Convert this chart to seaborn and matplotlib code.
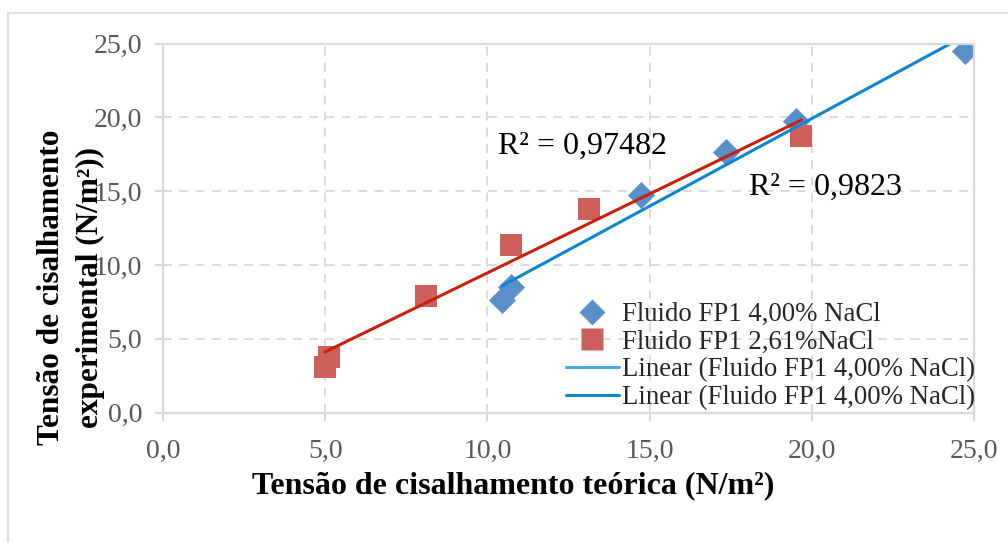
import matplotlib
matplotlib.use("Agg")
import matplotlib.pyplot as plt
import seaborn as sns
import numpy as np
import pandas as pd
from matplotlib.lines import Line2D
from matplotlib.patches import Rectangle
from matplotlib.ticker import FuncFormatter, MultipleLocator

# ---- data ----
x_fp1_400 = [10.44, 10.74, 14.73, 17.36, 19.50, 24.71]
y_fp1_400 = [7.65, 8.50, 14.72, 17.65, 19.77, 24.50]
x_fp1_261 = [4.99, 5.13, 8.11, 10.74, 13.14, 19.68]
y_fp1_261 = [3.10, 3.80, 7.91, 11.36, 13.78, 18.76]

legend_labels = ["Fluido FP1 4,00% NaCl", "Fluido FP1 2,61%NaCl",
                 "Linear (Fluido FP1 4,00% NaCl)", "Linear (Fluido FP1 4,00% NaCl)"]
r2_labels = ["R² = 0,97482", "R² = 0,9823"]
xlabel = "Tensão de cisalhamento teórica (N/m²)"
ylabel = "Tensão de cisalhamento\nexperimental (N/m²))"

sns.set_style("white")
plt.rcParams['font.family'] = ['Liberation Serif', 'DejaVu Serif']

W, H = 1008, 543
fig = plt.figure(figsize=(W / 100, H / 100), dpi=100)
L, R, T, B = 163, 974, 43.5, 412.7
ax = fig.add_axes([L / W, 1 - B / H, (R - L) / W, (B - T) / H])

blue_m = "#5b8fca"
red_m = "#cd605b"
red_line = "#c8200c"
blue_line = "#0c86cf"

df1 = pd.DataFrame({"x": x_fp1_400, "y": y_fp1_400})
df2 = pd.DataFrame({"x": x_fp1_261, "y": y_fp1_261})

sns.regplot(data=df1, x="x", y="y", ax=ax, ci=None, marker="D", truncate=True,
            scatter_kws=dict(s=190, color=blue_m, alpha=1, linewidths=0, zorder=3),
            line_kws=dict(color=blue_line, lw=2.2, zorder=4))
sns.regplot(data=df2, x="x", y="y", ax=ax, ci=None, marker="s", truncate=True,
            scatter_kws=dict(s=250, color=red_m, alpha=1, linewidths=0, zorder=3),
            line_kws=dict(color=red_line, lw=2.2, zorder=5))

ax.set_xlim(0, 25)
ax.set_ylim(0, 25)
ax.xaxis.set_major_locator(MultipleLocator(5))
ax.yaxis.set_major_locator(MultipleLocator(5))
fmt = FuncFormatter(lambda v, p: f"{v:.1f}".replace(".", ","))
ax.xaxis.set_major_formatter(fmt)
ax.yaxis.set_major_formatter(fmt)

grid_c = "#d9d9d9"
ax.grid(True, color=grid_c, lw=1.3, ls=(0, (5, 4)))
ax.set_axisbelow(True)
for s in ax.spines.values():
    s.set_visible(True)
    s.set_color(grid_c)
    s.set_linewidth(1.6)
    s.set_zorder(6)

ax.tick_params(axis="both", which="major", direction="out", length=6, width=1.5,
               color=grid_c, labelsize=20, labelcolor="#595959")
ax.tick_params(axis="x", pad=13)
ax.tick_params(axis="y", pad=9)
ax.tick_params(left=True, bottom=True)

ax.set_xlabel(xlabel, fontsize=23, fontweight="bold", color="black")
ax.set_ylabel(ylabel, fontsize=22.5, fontweight="bold", color="black", linespacing=1.45)
ax.xaxis.label.set_va("center")
ax.yaxis.label.set_va("center")
ax.xaxis.set_label_coords((513 - L) / (R - L), -(486 - B) / (B - T))
ax.yaxis.set_label_coords((71 - L) / (R - L), 1 - (287 - T) / (B - T))

ax.text(10.33, 18.04, r2_labels[0], fontsize=23, ha="left", va="center", color="black")
ax.text(18.06, 15.25, r2_labels[1], fontsize=23, ha="left", va="center", color="black")

handles = [
    Line2D([], [], ls="none", marker="D", ms=13, mfc=blue_m, mec="none"),
    Line2D([], [], ls="none", marker="s", ms=15.5, mfc=red_m, mec="none"),
    Line2D([], [], color="#4aa8e0", lw=2.2),
    Line2D([], [], color=blue_line, lw=2.2),
]
leg = ax.legend(handles, legend_labels, loc="lower right", bbox_to_anchor=(1.005, 0.0),
                frameon=False, fontsize=19.3, handlelength=2.0, handletextpad=0.12,
                labelspacing=0.1, borderpad=0.0, borderaxespad=0.1)
leg.set_zorder(7)

# outer chart border
fig.patches.append(Rectangle((8 / W, -0.1), 1.2, 1.1 - 13 / H, transform=fig.transFigure,
                             fill=False, edgecolor="#d9d9d9", lw=1.2))

fig.savefig("out.png", dpi=100)
